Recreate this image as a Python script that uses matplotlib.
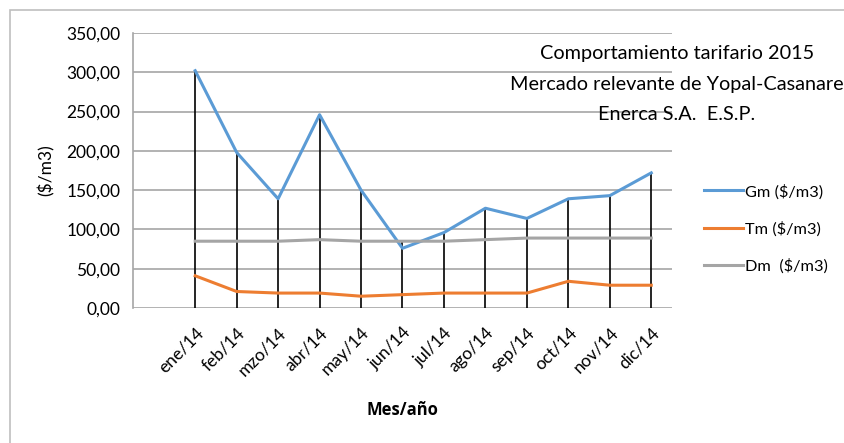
import matplotlib
matplotlib.use("Agg")
import matplotlib.pyplot as plt
from matplotlib.patches import Rectangle
import numpy as np

plt.rcParams["font.family"] = ["Lato", "DejaVu Sans"]

# ─── Datos ──────────────────────────────────────────────────────────────
meses = ["ene/14", "feb/14", "mzo/14", "abr/14", "may/14", "jun/14",
         "jul/14", "ago/14", "sep/14", "oct/14", "nov/14", "dic/14"]
gm = [302, 198, 139, 246, 150, 76, 96, 127, 114, 139, 143, 172]
tm = [41, 21, 19, 19, 15, 17, 19, 19, 19, 34, 29, 29]
dm = [85, 85, 85, 87, 85, 85, 85, 87, 89, 89, 89, 89]
titulo = ["Comportamiento tarifario 2015",
          "Mercado relevante de Yopal-Casanare",
          "Enerca S.A.  E.S.P."]

W, H = 845, 443
fig = plt.figure(figsize=(W / 100, H / 100), dpi=100)
ax = fig.add_axes([133 / W, 1 - 308 / H, (672 - 133) / W, (308 - 33) / H])

# borde exterior del gráfico
fig.patches.append(Rectangle((10 / W, -0.1), 1.2, 1.1 - 10 / H,
                             transform=fig.transFigure, fill=False,
                             edgecolor="#bfbfbf", linewidth=1.2))

x = np.arange(len(meses))
tope = np.maximum(np.maximum(gm, tm), dm)

ax.vlines(x, 0, tope, color="black", linewidth=1.2, zorder=2)
ax.plot(x, gm, color="#5B9BD5", linewidth=2.2, label="Gm ($/m3)", zorder=3)
ax.plot(x, tm, color="#ED7D31", linewidth=2.2, label="Tm ($/m3)", zorder=3)
ax.plot(x, dm, color="#A5A5A5", linewidth=2.2, label="Dm  ($/m3)", zorder=3)

ax.set_xlim(-1.5, 11.5)
ax.set_ylim(0, 350)
ax.set_yticks(np.arange(0, 351, 50))
ax.set_yticklabels([f"{v:.2f}".replace(".", ",") for v in np.arange(0, 351, 50)],
                   fontsize=12.5)
ax.set_xticks(x)
ax.set_xticklabels(meses, rotation=45, ha="right", rotation_mode="anchor",
                   fontsize=12.5)
ax.tick_params(axis="both", length=0, pad=9)
ax.tick_params(axis="x", pad=12)
ax.grid(axis="y", color="#a6a6a6", linewidth=1.2)
ax.set_axisbelow(True)
for s in ["top", "right", "bottom"]:
    ax.spines[s].set_visible(False)
ax.spines["left"].set_color("#a6a6a6")
ax.spines["left"].set_linewidth(1.2)

ax.set_ylabel("($/m3)", fontsize=12.5)
ax.yaxis.set_label_coords(-0.145, 0.5)
fig.text(402 / W, 1 - 410 / H, "Mes/año", fontsize=12, fontweight="bold",
         family=["Open Sans", "DejaVu Sans"], ha="center", va="center")

for i, linea in enumerate(titulo):
    fig.text(677 / W, 1 - (54 + 30.5 * i) / H, linea, fontsize=14.3,
             ha="center", va="center")

fig.legend(loc="center left", bbox_to_anchor=(697 / W, 1 - 229 / H),
           frameon=False, fontsize=11.8, handlelength=2.4, handletextpad=0.15,
           labelspacing=1.35, borderaxespad=0)

fig.savefig("out.png", dpi=100)
